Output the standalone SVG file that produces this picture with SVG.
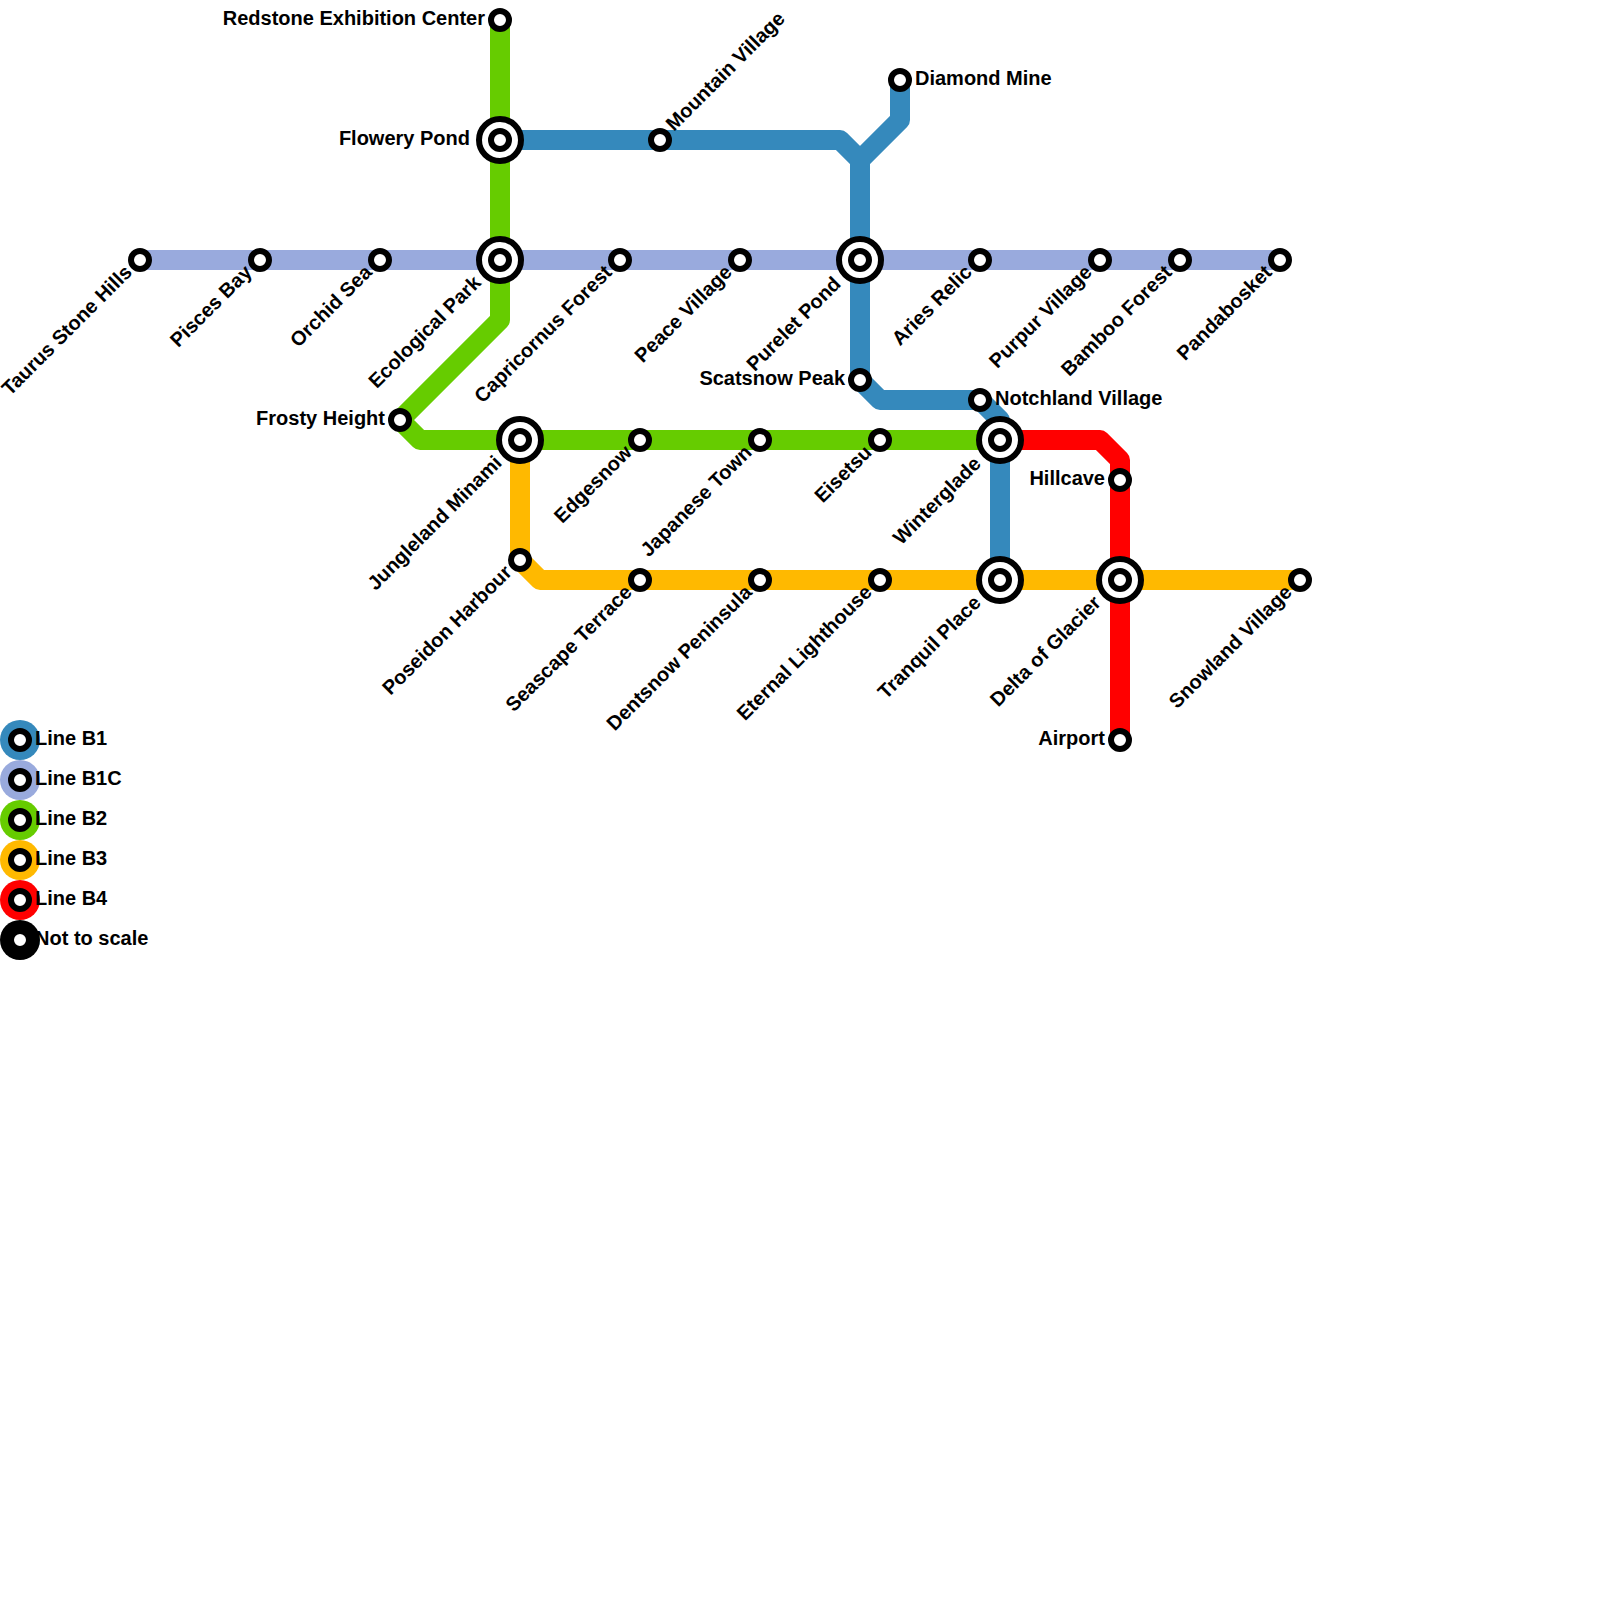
<svg xmlns="http://www.w3.org/2000/svg" width="1600" height="1600" viewBox="0 0 1600 1600">
<style>
.ln{fill:none;stroke-width:20;stroke-linejoin:round}
.s{fill:#fff;stroke:#000;stroke-width:6}
.o{fill:#fff;stroke:#000;stroke-width:6}
text{font-family:"Liberation Sans",Arial,sans-serif;font-weight:700;font-size:20px;fill:#000}
.e{text-anchor:end}
.d{text-anchor:end}
</style>
<defs>
<g id="st"><circle class="s" r="9"/></g>
<g id="ic"><circle class="o" r="21"/><circle class="s" r="9"/></g>
</defs>
<rect width="1600" height="1600" fill="#fff"/>
<g id="connectors">
<path class="ln" stroke="#3589bc" d="M500 140H840L860 160V380L880 400H980L1000 420V580"/>
<path class="ln" stroke="#3589bc" d="M860 160L900 120V80"/>
<path class="ln" stroke="#99aadd" d="M140 260H1280"/>
<path class="ln" stroke="#66cc00" d="M500 20V320L400 420L420 440H1000"/>
<path class="ln" stroke="#ffb900" d="M520 440V560L540 580H1300"/>
<path class="ln" stroke="#ff0000" d="M1000 440H1100L1120 460V740"/>
</g>
<g id="n-taurus"><use href="#st" x="140" y="260"/><text class="d" transform="translate(133 273.5) rotate(-45)">Taurus Stone Hills</text></g>
<g id="n-pisces"><use href="#st" x="260" y="260"/><text class="d" transform="translate(253 273.5) rotate(-45)">Pisces Bay</text></g>
<g id="n-orchid"><use href="#st" x="380" y="260"/><text class="d" transform="translate(373 273.5) rotate(-45)">Orchid Sea</text></g>
<g id="n-eco"><use href="#ic" x="500" y="260"/><text class="d" transform="translate(482 284) rotate(-45)">Ecological Park</text></g>
<g id="n-capri"><use href="#st" x="620" y="260"/><text class="d" transform="translate(613 273.5) rotate(-45)">Capricornus Forest</text></g>
<g id="n-peace"><use href="#st" x="740" y="260"/><text class="d" transform="translate(733 273.5) rotate(-45)">Peace Village</text></g>
<g id="n-purelet"><use href="#ic" x="860" y="260"/><text class="d" transform="translate(842 285) rotate(-45)">Purelet Pond</text></g>
<g id="n-aries"><use href="#st" x="980" y="260"/><text class="d" transform="translate(973 273.5) rotate(-45)">Aries Relic</text></g>
<g id="n-purpur"><use href="#st" x="1100" y="260"/><text class="d" transform="translate(1093 273.5) rotate(-45)">Purpur Village</text></g>
<g id="n-bamboo"><use href="#st" x="1180" y="260"/><text class="d" transform="translate(1173 273.5) rotate(-45)">Bamboo Forest</text></g>
<g id="n-panda"><use href="#st" x="1280" y="260"/><text class="d" transform="translate(1273 273.5) rotate(-45)">Pandabosket</text></g>
<g id="n-redstone"><use href="#st" x="500" y="20"/><text class="e" x="485" y="25">Redstone Exhibition Center</text></g>
<g id="n-flowery"><use href="#ic" x="500" y="140"/><text class="e" x="470" y="145">Flowery Pond</text></g>
<g id="n-mountain"><use href="#st" x="660" y="140"/><text transform="translate(674 132) rotate(-45)">Mountain Village</text></g>
<g id="n-diamond"><use href="#st" x="900" y="80"/><text x="915" y="85">Diamond Mine</text></g>
<g id="n-scatsnow"><use href="#st" x="860" y="380"/><text class="e" x="845" y="385">Scatsnow Peak</text></g>
<g id="n-notchland"><use href="#st" x="980" y="400"/><text x="995" y="405">Notchland Village</text></g>
<g id="n-winterglade"><use href="#ic" x="1000" y="440"/><text class="d" transform="translate(982 465) rotate(-45)">Winterglade</text></g>
<g id="n-hillcave"><use href="#st" x="1120" y="480"/><text class="e" x="1105" y="485">Hillcave</text></g>
<g id="n-frosty"><use href="#st" x="400" y="420"/><text class="e" x="385" y="425">Frosty Height</text></g>
<g id="n-jungle"><use href="#ic" x="520" y="440"/><text class="d" transform="translate(503 464) rotate(-45)">Jungleland Minami</text></g>
<g id="n-edgesnow"><use href="#st" x="640" y="440"/><text class="d" transform="translate(633 453.5) rotate(-45)">Edgesnow</text></g>
<g id="n-japanese"><use href="#st" x="760" y="440"/><text class="d" transform="translate(753 453.5) rotate(-45)">Japanese Town</text></g>
<g id="n-eisetsu"><use href="#st" x="880" y="440"/><text class="d" transform="translate(873 453.5) rotate(-45)">Eisetsu</text></g>
<g id="n-poseidon"><use href="#st" x="520" y="560"/><text class="d" transform="translate(513 573.5) rotate(-45)">Poseidon Harbour</text></g>
<g id="n-seascape"><use href="#st" x="640" y="580"/><text class="d" transform="translate(633 593.5) rotate(-45)">Seascape Terrace</text></g>
<g id="n-dentsnow"><use href="#st" x="760" y="580"/><text class="d" transform="translate(753 593.5) rotate(-45)">Dentsnow Peninsula</text></g>
<g id="n-eternal"><use href="#st" x="880" y="580"/><text class="d" transform="translate(873 593.5) rotate(-45)">Eternal Lighthouse</text></g>
<g id="n-tranquil"><use href="#ic" x="1000" y="580"/><text class="d" transform="translate(982 604) rotate(-45)">Tranquil Place</text></g>
<g id="n-delta"><use href="#ic" x="1120" y="580"/><text class="d" transform="translate(1102 604) rotate(-45)">Delta of Glacier</text></g>
<g id="n-snowland"><use href="#st" x="1300" y="580"/><text class="d" transform="translate(1293 593.5) rotate(-45)">Snowland Village</text></g>
<g id="n-airport"><use href="#st" x="1120" y="740"/><text class="e" x="1105" y="745">Airport</text></g>
<g id="legend">
<circle cx="20" cy="740" r="20" fill="#3589bc"/><use href="#st" x="20" y="740"/><text x="35" y="745">Line B1</text>
<circle cx="20" cy="780" r="20" fill="#99aadd"/><use href="#st" x="20" y="780"/><text x="35" y="785">Line B1C</text>
<circle cx="20" cy="820" r="20" fill="#66cc00"/><use href="#st" x="20" y="820"/><text x="35" y="825">Line B2</text>
<circle cx="20" cy="860" r="20" fill="#ffb900"/><use href="#st" x="20" y="860"/><text x="35" y="865">Line B3</text>
<circle cx="20" cy="900" r="20" fill="#ff0000"/><use href="#st" x="20" y="900"/><text x="35" y="905">Line B4</text>
<circle cx="20" cy="940" r="20" fill="#000"/><use href="#st" x="20" y="940"/><text x="35" y="945">Not to scale</text>
</g>
</svg>
